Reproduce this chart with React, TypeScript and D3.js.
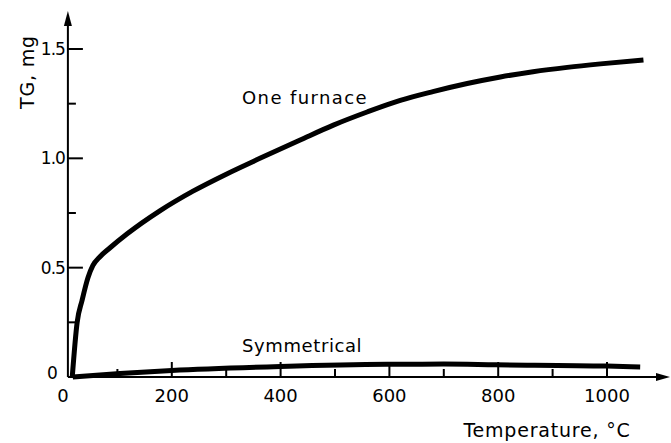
import React, { useEffect, useRef } from "react";
import * as d3 from "d3";

// Temperature (°C) and TG (mg)
const oneFurnaceTemp = [17, 26, 35, 46, 55, 68, 86, 118, 178, 239, 302, 362, 436, 497, 559, 620, 680, 743, 804, 864, 927, 988, 1067];
const oneFurnaceTG = [0, 0.25, 0.35, 0.455, 0.51, 0.55, 0.59, 0.655, 0.76, 0.85, 0.93, 1.0, 1.084, 1.152, 1.212, 1.265, 1.305, 1.342, 1.372, 1.396, 1.416, 1.432, 1.45];

const symmetricalTemp = [18, 105, 200, 400, 596, 700, 795, 1000, 1061];
const symmetricalTG = [0, 0.016, 0.03, 0.048, 0.058, 0.059, 0.056, 0.05, 0.046];

const tempMajorTicks = [200, 400, 600, 800, 1000];
const tempMinorTicks = [100, 300, 500, 700, 900];
const tempLabels = ["0", "200", "400", "600", "800", "1000"];
const tgMajorTicks = [0.5, 1.0, 1.5];
const tgMinorTicks = [0.25, 0.75, 1.25];
const tgLabels = ["0.5", "1.0", "1.5"];

const FONT = "'DejaVu Sans', sans-serif";

const App = () => {
    const svgRef = useRef<SVGSVGElement>(null);

    useEffect(() => {
        const svg = d3.select(svgRef.current);
        svg.selectAll("*").remove();

        const width = 671;
        const height = 443;
        svg.attr("width", width).attr("height", height);

        const xScale = d3.scaleLinear().domain([0, 1000]).range([63, 607]);
        const yScale = d3.scaleLinear().domain([0, 1.5]).range([377, 49]);

        const axisX = xScale(9);
        const axisY = yScale(0);
        const ink = "#000";

        // axes lines + arrow heads
        svg.append("line")
            .attr("x1", axisX).attr("y1", axisY)
            .attr("x2", axisX).attr("y2", 20)
            .attr("stroke", ink).attr("stroke-width", 2);
        svg.append("path")
            .attr("d", `M${axisX - 4},${26} L${axisX},${11} L${axisX + 4},${26} Z`)
            .attr("fill", ink);

        svg.append("line")
            .attr("x1", axisX).attr("y1", axisY)
            .attr("x2", 660).attr("y2", axisY)
            .attr("stroke", ink).attr("stroke-width", 2);
        svg.append("path")
            .attr("d", `M${656},${axisY - 4} L${670},${axisY} L${656},${axisY + 4} Z`)
            .attr("fill", ink);

        // x ticks (pointing up)
        svg.selectAll(".x-major").data(tempMajorTicks).enter().append("line")
            .attr("x1", (d) => xScale(d)).attr("x2", (d) => xScale(d))
            .attr("y1", axisY).attr("y2", axisY - 15)
            .attr("stroke", ink).attr("stroke-width", 2);
        svg.selectAll(".x-minor").data(tempMinorTicks).enter().append("line")
            .attr("x1", (d) => xScale(d)).attr("x2", (d) => xScale(d))
            .attr("y1", axisY).attr("y2", axisY - 8)
            .attr("stroke", ink).attr("stroke-width", 2);

        // y ticks (pointing right)
        svg.selectAll(".y-major").data(tgMajorTicks).enter().append("line")
            .attr("x1", axisX).attr("x2", axisX + 15)
            .attr("y1", (d) => yScale(d)).attr("y2", (d) => yScale(d))
            .attr("stroke", ink).attr("stroke-width", 2);
        svg.selectAll(".y-minor").data(tgMinorTicks).enter().append("line")
            .attr("x1", axisX).attr("x2", axisX + 8)
            .attr("y1", (d) => yScale(d)).attr("y2", (d) => yScale(d))
            .attr("stroke", ink).attr("stroke-width", 2);

        // tick labels
        svg.selectAll(".x-label").data(tempLabels).enter().append("text")
            .attr("x", (d) => xScale(+d))
            .attr("y", axisY + 25)
            .attr("text-anchor", "middle")
            .style("font-family", FONT)
            .style("font-size", "18px")
            .text((d) => d);

        svg.selectAll(".y-label").data(tgLabels).enter().append("text")
            .attr("x", axisX - 3)
            .attr("y", (d) => yScale(+d) + 6)
            .attr("text-anchor", "end")
            .style("font-family", FONT)
            .style("font-size", "17px")
            .style("letter-spacing", "-1px")
            .text((d) => d);

        svg.append("text")
            .attr("x", axisX - 10)
            .attr("y", axisY + 2)
            .attr("text-anchor", "end")
            .style("font-family", FONT)
            .style("font-size", "17px")
            .text("0");

        // axis titles
        svg.append("text")
            .attr("x", 547)
            .attr("y", 437)
            .attr("text-anchor", "middle")
            .style("font-family", FONT)
            .style("font-size", "19px")
            .style("letter-spacing", "0.8px")
            .text("Temperature, °C");

        svg.append("text")
            .attr("transform", `translate(34, 72) rotate(-90)`)
            .attr("text-anchor", "middle")
            .style("font-family", FONT)
            .style("font-size", "19px")
            .style("letter-spacing", "0.8px")
            .text("TG, mg");

        // curves
        const line = d3.line<[number, number]>()
            .x((d) => xScale(d[0]))
            .y((d) => yScale(d[1]))
            .curve(d3.curveMonotoneX);

        const oneFurnace: [number, number][] = oneFurnaceTemp.map((t, i) => [t, oneFurnaceTG[i]]);
        const symmetrical: [number, number][] = symmetricalTemp.map((t, i) => [t, symmetricalTG[i]]);

        svg.append("path")
            .datum(oneFurnace)
            .attr("d", line)
            .attr("fill", "none")
            .attr("stroke", ink)
            .attr("stroke-width", 5)
            .attr("stroke-linejoin", "round");

        svg.append("path")
            .datum(symmetrical)
            .attr("d", line)
            .attr("fill", "none")
            .attr("stroke", ink)
            .attr("stroke-width", 5)
            .attr("stroke-linejoin", "round");

        // curve labels
        svg.append("text")
            .attr("x", 242)
            .attr("y", 104)
            .style("font-family", FONT)
            .style("font-size", "18px")
            .style("letter-spacing", "1.4px")
            .text("One furnace");

        svg.append("text")
            .attr("x", 242)
            .attr("y", 352)
            .style("font-family", FONT)
            .style("font-size", "18px")
            .style("letter-spacing", "0.6px")
            .text("Symmetrical");
    }, []);

    return (
        <div>
            <svg ref={svgRef} style={{ position: "absolute", left: 0, top: 0, background: "#fff" }}></svg>
        </div>
    );
};

export default App;
